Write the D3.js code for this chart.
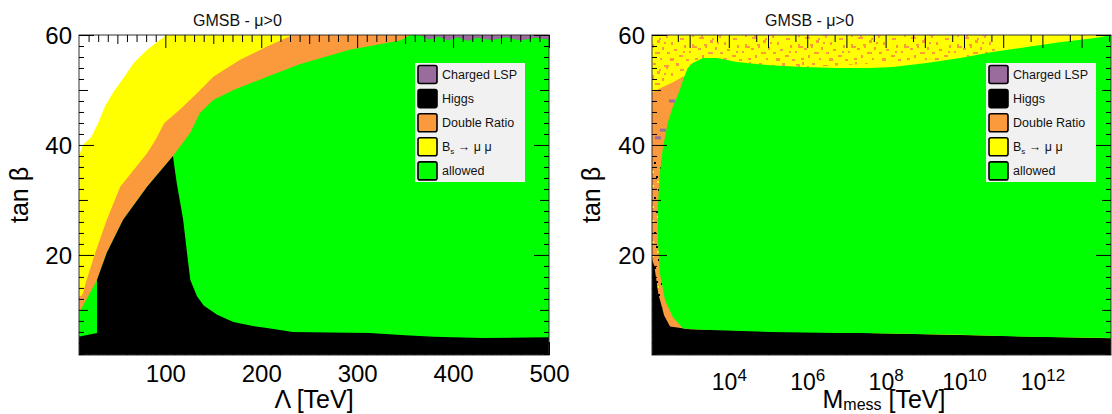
<!DOCTYPE html>
<html>
<head>
<meta charset="utf-8">
<script src="https://cdn.jsdelivr.net/npm/d3@7"></script>
<style>
  html, body { margin: 0; padding: 0; background: #fff; }
  svg { display: block; font-family: "Liberation Sans", Arial, Helvetica, sans-serif; }
</style>
</head>
<body>
<svg id="chart" width="1112" height="414"></svg>
<script>
// ---------------- data: left panel, (Lambda [TeV], tan beta) ----------------
// lower-left edge of the scanned points: B_s -> mu mu excluded region starts here
const lamBsEdge = [[5, 0], [5, 38], [10, 38], [14, 40], [23, 41.5], [30, 44], [37, 47], [46, 49.7],
  [56, 52.1], [67, 54.9], [81, 57.3], [101, 60], [101, 63], [520, 63], [520, 0]];
// B_s -> mu mu / double ratio border
const lamDoubleRatioEdge = [[5, 0], [5, 12.5], [12, 12.5], [14, 13], [18, 15.5], [27, 20.4], [39, 26.4],
  [53, 32.4], [81, 38.5], [90, 41], [99, 44], [115, 46.4], [133, 49.4], [150, 52.4], [178, 55.5],
  [206, 57.9], [233, 60], [233, 63], [520, 63], [520, 0]];
// double ratio / allowed border
const lamAllowedEdge = [[5, 0], [5, 9.5], [10, 9.5], [29, 15.5], [39, 20.4], [56, 26.4], [81, 32.4],
  [108, 38], [126, 42.2], [136, 45.8], [150, 48.2], [171, 50], [206, 52.4], [240, 54.7], [292, 57.3],
  [345, 59], [360, 60.5], [360, 63], [520, 63], [520, 0]];
// Higgs-excluded region
const lamHiggsEdge = [[5, 0], [5, 5], [12, 5.2], [28.8, 5.8], [28.8, 15.5], [39, 20.4], [56, 26.4],
  [81, 32.4], [108, 38], [109.5, 36], [112, 33], [115, 30], [118.6, 26.4], [122.6, 20.4], [126, 15.5],
  [133, 12.5], [140, 10.8], [154, 9.1], [171, 7.8], [190, 7.1], [206, 6.7], [233, 6], [270, 5.9],
  [313, 5.8], [350, 5.4], [380, 5.1], [430, 4.9], [480, 5.0], [520, 5.1], [520, 0]];
// charged LSP strip along the top
const lamChargedLspEdge = [[365, 63], [365, 60], [375, 59.2], [385, 59.7], [395, 59.0], [405, 59.6],
  [415, 58.9], [425, 59.5], [440, 59.1], [455, 59.6], [470, 59.0], [485, 59.5], [500, 59.2], [520, 59.2], [520, 63]];

// ---------------- data: right panel, (log10 M_mess [TeV], tan beta) ----------------
const messAllowedEdge = [[14, 4.8], [13.77, 4.9], [11.6, 5.1], [9.9, 5.5], [7.34, 5.8], [6.75, 5.8],
  [5.05, 6.0], [3.34, 6.4], [2.83, 6.6], [2.57, 8.7], [2.37, 11.8], [2.24, 16.7], [2.19, 22.7],
  [2.19, 28.7], [2.24, 34.9], [2.32, 39.6], [2.44, 44], [2.57, 46.9], [2.75, 50], [2.83, 51.8],
  [2.95, 54], [3.08, 54.9], [3.34, 55.8], [3.69, 55.8], [4.2, 55.1], [5.05, 54.5], [5.9, 54.2],
  [6.75, 54], [7.6, 54], [8.18, 54.2], [9.05, 54.9], [9.9, 55.8], [10.73, 56.9], [11.6, 57.8],
  [12.44, 58.7], [13.29, 59.4], [13.77, 60], [14, 60.3]];
const messHiggsEdge = [[1.9, 0], [1.9, 22], [2.1, 18], [2.2, 13], [2.35, 9], [2.5, 7], [3, 6.5],
  [14, 4.8], [14, 0]];
const messDoubleRatioEdge = [[1.9, 5], [1.9, 49], [2.3, 50.5], [2.6, 51.5], [2.85, 52.5], [3.0, 50], [3.0, 5]];
const messMixedEdge = [[1.9, 63], [10.8, 63], [10.8, 56], [3, 53], [1.9, 50]];
const messMixedLowEdge = [[1.9, 9], [1.9, 38], [2.3, 38], [2.3, 9]];
const messChargedLspPoints = [[2.55, 48], [2.32, 42.7], [2.19, 41.3]];

// ---------------- axes / labels ----------------
const legendLabels = ["Charged LSP", "Higgs", "Double Ratio", "Bs", "allowed"];
const lamTicks = [100, 200, 300, 400, 500];
const tanbTicks = [20, 40, 60];
const messTickExps = [4, 6, 8, 10, 12];
const titleText = "GMSB - \u03bc>0";

// ---------------- styling ----------------
const col = {
  lsp: "#9a6b9d",
  higgs: "#000000",
  ratio: "#fa9a3c",
  bs: "#ffff00",
  allowed: "#00ff00"
};
const legendColors = [col.lsp, col.higgs, col.ratio, col.bs, col.allowed];
const font = "'Liberation Sans', Arial, Helvetica, sans-serif";

const svg = d3.select("#chart");
const defs = svg.append("defs");

// speckle textures where scan points of neighbouring constraints interleave
const speckTile = [[1, 2, 4, 2], [3, 4, 2, 2], [7, 0, 2, 3], [10, 6, 5, 2], [12, 4, 2, 2], [17, 1, 3, 2],
  [21, 9, 3, 3], [23, 7, 2, 2], [28, 3, 5, 2], [30, 5, 2, 2], [35, 11, 2, 3], [40, 1, 3, 3],
  [44, 7, 4, 2], [48, 14, 2, 3], [3, 13, 2, 4], [5, 15, 3, 2], [9, 17, 3, 2], [15, 13, 3, 2],
  [16, 15, 2, 2], [19, 21, 5, 2], [26, 16, 2, 3], [31, 21, 3, 2], [38, 18, 3, 2], [43, 24, 4, 2],
  [13, 24, 2, 3], [6, 27, 3, 2], [24, 27, 2, 2], [34, 27, 4, 3], [47, 20, 2, 2], [50, 28, 3, 2],
  [0, 20, 2, 2], [28, 11, 2, 2]];
const speckDarkTile = [[1, 3, 2, 2, "#000"], [6, 10, 3, 2, "#ff0"], [11, 1, 2, 2, "#000"],
  [3, 17, 2, 3, "#ff0"], [9, 22, 2, 2, "#000"], [13, 14, 2, 2, "#000"], [0, 27, 3, 2, "#000"],
  [7, 31, 2, 2, "#ff0"], [12, 6, 2, 2, "#ff0"]];

const pat = defs.append("pattern").attr("id", "speck").attr("patternUnits", "userSpaceOnUse")
  .attr("width", 53).attr("height", 31);
pat.append("rect").attr("width", 53).attr("height", 31).attr("fill", col.bs);
pat.selectAll("rect.s").data(speckTile).join("rect").attr("class", "s")
  .attr("x", d => d[0]).attr("y", d => d[1]).attr("width", d => d[2]).attr("height", d => d[3])
  .attr("fill", col.ratio);

const patD = defs.append("pattern").attr("id", "speckDark").attr("patternUnits", "userSpaceOnUse")
  .attr("width", 15).attr("height", 35);
patD.append("rect").attr("width", 15).attr("height", 35).attr("fill", col.ratio);
patD.selectAll("rect.s").data(speckDarkTile).join("rect").attr("class", "s")
  .attr("x", d => d[0]).attr("y", d => d[1]).attr("width", d => d[2]).attr("height", d => d[3])
  .attr("fill", d => d[4]);

function panel(id, box, xScale, xAcc) {
  defs.append("clipPath").attr("id", id).append("rect")
    .attr("x", box.x0).attr("y", box.y0).attr("width", box.x1 - box.x0).attr("height", box.y1 - box.y0);
  const g = svg.append("g").attr("clip-path", `url(#${id})`);
  const y = d3.scaleLinear().domain([1.8, 60]).range([box.y1, box.y0]);
  const line = d3.line().x(d => xScale(xAcc(d[0]))).y(d => y(d[1]));
  return { g, y, poly: pts => line(pts) + "Z" };
}

function drawYAxes(box, y) {
  const tert = d3.range(2, 61, 2).filter(v => v % 10 !== 0);
  const sec = [10, 30, 50];
  const left = svg.append("g").attr("transform", `translate(${box.x0},0)`);
  const right = svg.append("g").attr("transform", `translate(${box.x1},0)`);
  left.append("g").call(d3.axisLeft(y).tickValues(tert).tickSize(-5).tickFormat(""));
  left.append("g").call(d3.axisLeft(y).tickValues(sec).tickSize(-9).tickFormat(""));
  left.append("g").call(d3.axisLeft(y).tickValues(tanbTicks).tickSize(-15).tickPadding(7).tickFormat(d3.format("d")));
  right.append("g").call(d3.axisRight(y).tickValues(tert).tickSize(-5).tickFormat(""));
  right.append("g").call(d3.axisRight(y).tickValues(sec).tickSize(-9).tickFormat(""));
  right.append("g").call(d3.axisRight(y).tickValues(tanbTicks).tickSize(-15).tickFormat(""));
  [left, right].forEach(a => {
    a.selectAll(".domain").remove();
    a.selectAll("line").attr("stroke", "#000").attr("stroke-width", 1);
    a.selectAll("text").attr("font-family", font).attr("font-size", 24).attr("fill", "#000").attr("dy", "0.36em");
  });
}

function legend(x0) {
  const lg = svg.append("g");
  lg.append("rect").attr("x", x0).attr("y", 63).attr("width", 110).attr("height", 119).attr("fill", "#f1f1f1");
  const rows = lg.selectAll("g.row").data(legendLabels).join("g").attr("class", "row")
    .attr("transform", (d, i) => `translate(${x0},${74.5 + i * 24.1})`);
  rows.append("rect").attr("x", 3).attr("y", -9).attr("width", 19).attr("height", 18).attr("rx", 2)
    .attr("fill", (d, i) => legendColors[i]).attr("stroke", "#000").attr("stroke-width", 1.6);
  rows.append("text").attr("x", 27).attr("y", 0).attr("dy", "0.36em")
    .attr("font-family", font).attr("font-size", 12.5).attr("fill", "#111")
    .each(function (d) {
      const t = d3.select(this);
      if (d === "Bs") {
        t.append("tspan").text("B");
        t.append("tspan").attr("font-size", 8).attr("dy", 3).text("s");
        t.append("tspan").attr("dy", -3).text(" \u2192 \u03bc \u03bc");
      } else t.text(d);
    });
}

function titles(tx, ytx) {
  svg.append("text").attr("x", tx).attr("y", 26).attr("font-family", font).attr("font-size", 16)
    .attr("fill", "#111").text(titleText);
  svg.append("text").attr("transform", `translate(${ytx},195) rotate(-90)`).attr("text-anchor", "middle")
    .attr("font-family", font).attr("font-size", 25).attr("fill", "#000").text("tan \u03b2");
}

// ================= left panel: Lambda scan =================
const L = { x0: 79, x1: 549, y0: 35, y1: 355 };
const xL = d3.scaleLinear().domain([10, 500]).range([L.x0, L.x1]);
const pl = panel("clipL", L, xL, v => v);
pl.g.append("path").attr("d", pl.poly(lamBsEdge)).attr("fill", col.bs);
pl.g.append("path").attr("d", pl.poly(lamDoubleRatioEdge)).attr("fill", col.ratio);
pl.g.append("path").attr("d", pl.poly(lamAllowedEdge)).attr("fill", col.allowed);
pl.g.append("path").attr("d", pl.poly(lamHiggsEdge)).attr("fill", col.higgs);
pl.g.append("path").attr("d", pl.poly(lamChargedLspEdge)).attr("fill", col.lsp);

legend(415);
svg.append("rect").attr("x", L.x0).attr("y", L.y0).attr("width", L.x1 - L.x0).attr("height", L.y1 - L.y0)
  .attr("fill", "none").attr("stroke", "#333").attr("stroke-width", 1);

{
  const tert = d3.range(20, 500, 10).filter(v => v % 50 !== 0);
  const sec = d3.range(50, 500, 100);
  const top = svg.append("g").attr("transform", `translate(0,${L.y0})`);
  const bot = svg.append("g").attr("transform", `translate(0,${L.y1})`);
  top.append("g").call(d3.axisTop(xL).tickValues(tert).tickSize(-7).tickFormat(""));
  top.append("g").call(d3.axisTop(xL).tickValues(sec).tickSize(-9).tickFormat(""));
  top.append("g").call(d3.axisTop(xL).tickValues(lamTicks).tickSize(-13).tickFormat(""));
  bot.append("g").call(d3.axisBottom(xL).tickValues(tert).tickSize(-7).tickFormat(""));
  bot.append("g").call(d3.axisBottom(xL).tickValues(sec).tickSize(-9).tickFormat(""));
  bot.append("g").call(d3.axisBottom(xL).tickValues(lamTicks).tickSize(-13).tickPadding(10).tickFormat(d3.format("d")));
  [top, bot].forEach(a => {
    a.selectAll(".domain").remove();
    a.selectAll("line").attr("stroke", "#000");
    a.selectAll("text").attr("font-family", font).attr("font-size", 24).attr("fill", "#000");
  });
}
drawYAxes(L, pl.y);
titles(193, 28);
svg.append("text").attr("x", 314).attr("y", 408).attr("text-anchor", "middle").attr("font-family", font)
  .attr("font-size", 25).attr("fill", "#000").text("\u039b [TeV]");

// ================= right panel: messenger-mass scan =================
const R = { x0: 652, x1: 1111, y0: 35, y1: 355 };
const xR = d3.scaleLog().domain([Math.pow(10, 2.04), Math.pow(10, 13.75)]).range([R.x0, R.x1]);
const pr = panel("clipR", R, xR, v => Math.pow(10, v));
pr.g.append("rect").attr("x", R.x0).attr("y", R.y0).attr("width", R.x1 - R.x0).attr("height", R.y1 - R.y0)
  .attr("fill", col.bs);
pr.g.append("path").attr("d", pr.poly(messMixedEdge)).attr("fill", "url(#speck)");
pr.g.append("path").attr("d", pr.poly(messDoubleRatioEdge)).attr("fill", col.ratio);
pr.g.append("path").attr("d", pr.poly(messMixedLowEdge)).attr("fill", "url(#speckDark)");
pr.g.append("path").attr("d", pr.poly(messHiggsEdge)).attr("fill", col.higgs);
pr.g.append("path").attr("d", pr.poly(messAllowedEdge)).attr("fill", col.allowed);
pr.g.selectAll("rect.lsp").data(messChargedLspPoints).join("rect").attr("class", "lsp")
  .attr("x", d => xR(Math.pow(10, d[0])) - 3).attr("y", d => pr.y(d[1]) - 1.5)
  .attr("width", 6).attr("height", 3).attr("fill", col.lsp);

legend(986);
svg.append("rect").attr("x", R.x0).attr("y", R.y0).attr("width", R.x1 - R.x0).attr("height", R.y1 - R.y0)
  .attr("fill", "none").attr("stroke", "#333").attr("stroke-width", 1);

{
  const majors = d3.range(3, 14).map(e => Math.pow(10, e));
  const minors = d3.range(2, 14).map(e => 5 * Math.pow(10, e));
  const labelled = messTickExps.map(e => Math.pow(10, e));
  const top = svg.append("g").attr("transform", `translate(0,${R.y0})`);
  const bot = svg.append("g").attr("transform", `translate(0,${R.y1})`);
  top.append("g").call(d3.axisTop(xR).tickValues(minors).tickSize(-7).tickFormat(""));
  top.append("g").call(d3.axisTop(xR).tickValues(majors).tickSize(-13).tickFormat(""));
  bot.append("g").call(d3.axisBottom(xR).tickValues(minors).tickSize(-7).tickFormat(""));
  bot.append("g").call(d3.axisBottom(xR).tickValues(majors).tickSize(-13).tickFormat(""));
  const lab = bot.append("g").call(d3.axisBottom(xR).tickValues(labelled).tickSize(0).tickPadding(19).tickFormat(""));
  lab.selectAll(".tick text").attr("dy", "0.71em").each(function (d) {
    const t = d3.select(this);
    t.append("tspan").text("10");
    t.append("tspan").attr("font-size", 17).attr("dy", "-0.55em").text(Math.round(Math.log10(d)));
  });
  [top, bot].forEach(a => {
    a.selectAll(".domain").remove();
    a.selectAll("line").attr("stroke", "#000");
    a.selectAll("text").attr("font-family", font).attr("font-size", 23).attr("fill", "#000");
  });
}
drawYAxes(R, pr.y);
titles(765, 600);
{
  const t = svg.append("text").attr("x", 884).attr("y", 408).attr("text-anchor", "middle")
    .attr("font-family", font).attr("font-size", 25).attr("fill", "#000");
  t.append("tspan").text("M");
  t.append("tspan").attr("font-size", 16).attr("dy", 1.5).text("mess");
  t.append("tspan").attr("dy", -1.5).text(" [TeV]");
}
</script>
</body>
</html>
